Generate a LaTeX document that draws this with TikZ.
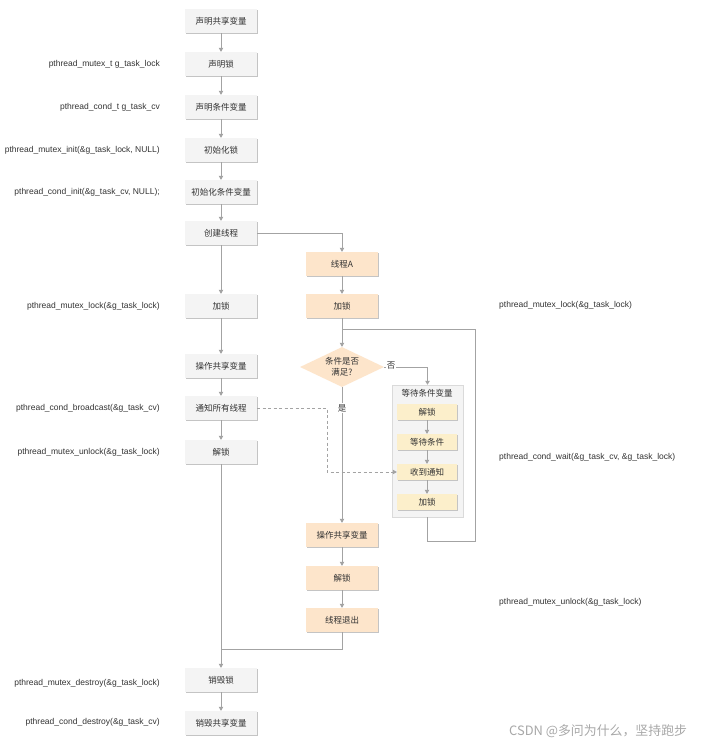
\documentclass[tikz,border=0pt]{standalone}
\usepackage{fontspec}
\setmainfont{Liberation Sans}
\newfontfamily\cjk{Noto Sans CJK SC}
\usetikzlibrary{arrows.meta, shapes.geometric, shadows}

\definecolor{boxgray}{HTML}{F4F4F4}
\definecolor{shadowgray}{HTML}{C4C4C4}
\definecolor{peach}{HTML}{FDE5CB}
\definecolor{cream}{HTML}{FCEFCB}
\definecolor{groupfill}{HTML}{F4F4F4}
\definecolor{groupline}{HTML}{DADADA}
\definecolor{linegray}{HTML}{A3A3A3}
\definecolor{txt}{HTML}{333333}
\definecolor{marktxt}{HTML}{A8A8A8}

\tikzset{
  basebox/.style={minimum width=72pt, minimum height=24pt, inner sep=0pt,
    font=\cjk\fontsize{8.5}{10}\selectfont, text=txt,
    drop shadow={shadow xshift=1.4pt, shadow yshift=-1.4pt, fill=shadowgray, opacity=1}},
  graybox/.style={basebox, fill=boxgray},
  peachbox/.style={basebox, fill=peach},
  creambox/.style={basebox, fill=cream, minimum width=60pt, minimum height=16pt},
  groupbox/.style={fill=groupfill, draw=groupline, line width=0.5pt, inner sep=0pt,
    drop shadow={shadow xshift=1.4pt, shadow yshift=-1.4pt, fill=shadowgray, opacity=1}},
  decision/.style={diamond, fill=peach, minimum width=84pt, minimum height=40pt, inner sep=0pt},
  codeL/.style={anchor=east, font=\fontsize{8.5}{10}\selectfont, text=txt, inner sep=0pt},
  codeR/.style={anchor=west, font=\fontsize{8.5}{10}\selectfont, text=txt, inner sep=0pt},
  tag/.style={font=\cjk\fontsize{8.5}{10}\selectfont, text=txt, fill=white, inner sep=0.8pt},
  conn/.style={draw=linegray, line width=0.6pt},
  arr/.style={conn, -{Triangle[width=4.5pt, length=4pt]}},
  darr/.style={arr, dashed, dash pattern=on 3pt off 2.5pt},
}

\begin{document}
\begin{tikzpicture}[x=1pt, y=-1pt]
\useasboundingbox (0,0) rectangle (702,748);
\fill[white] (0,0) rectangle (702,748);

% main thread column
\node[graybox] (d1) at (221,21) {声明共享变量};
\node[graybox] (d2) at (221,64) {声明锁};
\node[graybox] (d3) at (221,107) {声明条件变量};
\node[graybox] (d4) at (221,150) {初始化锁};
\node[graybox] (d5) at (221,192) {初始化条件变量};
\node[graybox] (d6) at (221,233) {创建线程};
\node[graybox] (d7) at (221,306) {加锁};
\node[graybox] (d8) at (221,366) {操作共享变量};
\node[graybox] (d9) at (221,408) {通知所有线程};
\node[graybox] (d10) at (221,452) {解锁};
\node[graybox] (d11) at (221,680) {销毁锁};
\node[graybox] (d12) at (221,723) {销毁共享变量};

% worker thread column
\node[peachbox] (a1) at (342,264) {线程A};
\node[peachbox] (a2) at (342,306) {加锁};
\node[decision] (c) at (342,367) {};
\node[font=\cjk\fontsize{8.5}{10.5}\selectfont, text=txt, align=center, inner sep=0pt] (ct) at (342,367) {条件是否\\满足?};
\node[peachbox] (a3) at (342,535) {操作共享变量};
\node[peachbox] (a4) at (342,578) {解锁};
\node[peachbox] (a5) at (342,620) {线程退出};

% condition wait group
\node[groupbox, minimum width=71pt, minimum height=132pt] (g) at (427.5,451) {};
\node[font=\cjk\fontsize{8.5}{10}\selectfont, text=txt, inner sep=0pt] (gt) at (427,393) {等待条件变量};
\node[creambox] (w1) at (427,412) {解锁};
\node[creambox] (w2) at (427,442) {等待条件};
\node[creambox] (w3) at (427,472) {收到通知};
\node[creambox] (w4) at (427,502) {加锁};

% API labels
\node[codeL] (l1) at (160,64) {pthread\_mutex\_t g\_task\_lock};
\node[codeL] (l2) at (160,107) {pthread\_cond\_t g\_task\_cv};
\node[codeL] (l3) at (160,150) {pthread\_mutex\_init(\&g\_task\_lock, NULL)};
\node[codeL] (l4) at (160,192) {pthread\_cond\_init(\&g\_task\_cv, NULL);};
\node[codeL] (l5) at (160,306) {pthread\_mutex\_lock(\&g\_task\_lock)};
\node[codeL] (l6) at (160,408) {pthread\_cond\_broadcast(\&g\_task\_cv)};
\node[codeL] (l7) at (160,452) {pthread\_mutex\_unlock(\&g\_task\_lock)};
\node[codeL] (l8) at (160,683) {pthread\_mutex\_destroy(\&g\_task\_lock)};
\node[codeL] (l9) at (160,722) {pthread\_cond\_destroy(\&g\_task\_cv)};
\node[codeR] (r1) at (499,305) {pthread\_mutex\_lock(\&g\_task\_lock)};
\node[codeR] (r2) at (499,457) {pthread\_cond\_wait(\&g\_task\_cv, \&g\_task\_lock)};
\node[codeR] (r3) at (499,602) {pthread\_mutex\_unlock(\&g\_task\_lock)};

% main thread flow
\draw[arr] (d1) -- (d2);
\draw[arr] (d2) -- (d3);
\draw[arr] (d3) -- (d4);
\draw[arr] (d4) -- (d5);
\draw[arr] (d5) -- (d6);
\draw[arr] (d6) -- (d7);
\draw[arr] (d7) -- (d8);
\draw[arr] (d8) -- (d9);
\draw[arr] (d9) -- (d10);
\draw[arr] (d10) -- (d11);
\draw[arr] (d11) -- (d12);

% worker thread flow
\draw[arr] (d6.east) -| (a1.north);
\draw[arr] (a1) -- (a2);
\draw[arr] (a2) -- (c.north);
\coordinate (loopin) at (342,329);
\draw[conn] (g.south) -- ++(0,24) -| (475,329) -- (loopin);
\draw[arr] (c.east) -| (g.north);
\node[tag] (no) at (391,366) {否};
\draw[arr] (c.south) -- (a3.north);
\node[tag] (yes) at (342,408) {是};
\draw[arr] (w1) -- (w2);
\draw[arr] (w2) -- (w3);
\draw[arr] (w3) -- (w4);
\draw[arr] (a3) -- (a4);
\draw[arr] (a4) -- (a5);
\coordinate (join) at (221,649);
\draw[conn] (a5.south) |- (join);

% broadcast notification
\draw[darr] (d9.east) -- (327,408) |- (w3.west);

% watermark
\node[anchor=west, font=\cjk\fontsize{12.9}{14}\selectfont, text=marktxt, inner sep=0pt] (wm) at (509,731) {CSDN @多问为什么，坚持跑步};
\end{tikzpicture}
\end{document}
